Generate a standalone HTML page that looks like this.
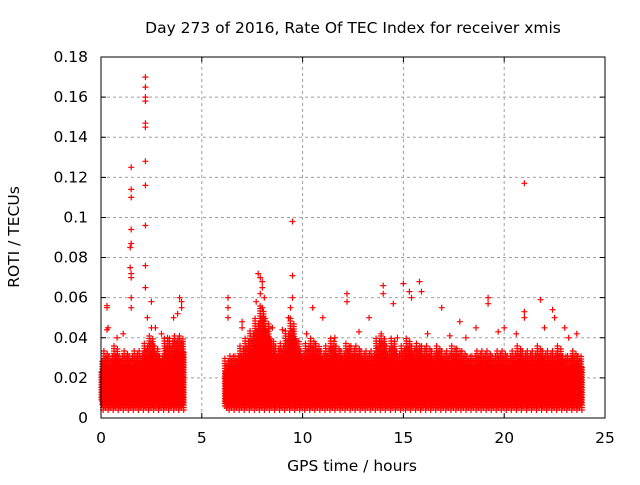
<!DOCTYPE html>
<html><head><meta charset="utf-8"><style>
html,body{margin:0;padding:0;background:#fff;}
svg text{font-family:"DejaVu Sans","Liberation Sans",sans-serif;font-size:15.5px;fill:#000;}
</style></head><body>
<svg id="chart" width="640" height="480" xmlns="http://www.w3.org/2000/svg">
<rect width="640" height="480" fill="#fff"/>
<text x="353" y="33" text-anchor="middle">Day 273 of 2016, Rate Of TEC Index for receiver xmis</text>
<text transform="translate(19,237) rotate(-90)" text-anchor="middle">ROTI / TECUs</text>
<text x="352" y="471" text-anchor="middle">GPS time / hours</text>
<g id="grid"></g>
<g id="ticks"></g>
<g id="marks"></g>
<rect x="101" y="57" width="504" height="361" fill="none" stroke="#000" stroke-width="1"/>
</svg>
<script>
const xTicks=[0,5,10,15,20,25];
const yTicks=[0,0.02,0.04,0.06,0.08,0.1,0.12,0.14,0.16,0.18];
const yTickLabels=["0","0.02","0.04","0.06","0.08","0.1","0.12","0.14","0.16","0.18"];
const binStart1=0, binStep=0.25;
const bandTop1=[0.03,0.034,0.032,0.036,0.032,0.034,0.032,0.034,0.034,0.038,0.042,0.036,0.032,0.04,0.04,0.042,0.042];
const binStart2=6.25;
const bandTop2=[0.03,0.032,0.032,0.036,0.04,0.044,0.05,0.056,0.05,0.04,0.036,0.038,0.044,0.05,0.04,0.034,0.038,0.04,0.038,0.034,0.036,0.04,0.036,0.034,0.038,0.036,0.036,0.034,0.034,0.034,0.04,0.042,0.036,0.04,0.034,0.037,0.04,0.037,0.038,0.036,0.036,0.034,0.037,0.034,0.034,0.036,0.035,0.034,0.032,0.032,0.034,0.034,0.034,0.032,0.034,0.034,0.032,0.034,0.036,0.034,0.034,0.034,0.036,0.034,0.034,0.034,0.036,0.032,0.032,0.034,0.032];
const bandLow=0.006;
const outT=[0.3,0.3,0.3,0.35,1.5,1.5,1.5,1.5,1.45,1.5,1.45,1.5,1.5,1.5,1.5,2.2,2.2,2.2,2.2,2.2,2.2,2.2,2.2,2.2,2.2,2.2,2.3,2.5,2.5,3.0,3.6,3.9,4.0,4.0,3.8,6.3,6.3,6.3,7.0,7.0,7.8,7.9,8.0,8.0,7.9,8.1,7.7,8.0,9.5,9.5,9.5,9.4,9.3,10.5,11.0,12.2,12.2,13.3,14.0,14.0,14.5,15.0,15.3,15.4,15.8,15.9,16.9,17.8,18.6,19.2,19.2,20.0,21.0,21.0,21.0,21.8,22.4,22.5,23.0,0.8,1.1,2.7,3.3,8.5,9.0,10.2,11.6,12.8,13.9,14.7,16.2,17.3,18.1,19.7,20.6,22.0,23.2,23.6];
const outV=[0.056,0.055,0.044,0.045,0.125,0.114,0.11,0.094,0.085,0.087,0.075,0.072,0.07,0.06,0.055,0.17,0.165,0.16,0.158,0.147,0.145,0.128,0.116,0.096,0.076,0.065,0.05,0.058,0.045,0.042,0.05,0.06,0.058,0.055,0.052,0.06,0.055,0.05,0.048,0.045,0.072,0.07,0.068,0.065,0.062,0.06,0.058,0.055,0.098,0.071,0.06,0.055,0.05,0.055,0.05,0.062,0.058,0.05,0.066,0.062,0.057,0.067,0.063,0.06,0.068,0.063,0.055,0.048,0.045,0.06,0.057,0.045,0.117,0.053,0.05,0.059,0.054,0.05,0.045,0.04,0.042,0.045,0.04,0.045,0.044,0.042,0.04,0.043,0.042,0.04,0.042,0.041,0.04,0.043,0.042,0.045,0.04,0.042];

const X0=101,X1=605,Y0=418,Y1=57;
const xs=t=>X0+(t-0)/25*(X1-X0);
const ys=v=>Y0-(v-0)/0.18*(Y0-Y1);
const NS="http://www.w3.org/2000/svg";
const grid=document.getElementById('grid'),ticks=document.getElementById('ticks'),marks=document.getElementById('marks');
function mk(tag,attrs,parent){const e=document.createElementNS(NS,tag);for(const k in attrs)e.setAttribute(k,attrs[k]);parent.appendChild(e);return e;}
xTicks.forEach((t,i)=>{
  const x=xs(t);
  if(i>0&&i<xTicks.length-1){const g=mk('line',{x1:x,y1:Y0,x2:x,y2:Y1,stroke:'#a0a0a0','stroke-dasharray':'3,3'},grid);
  
  }
  const tk=mk('path',{d:`M${x},${Y0}v-5M${x},${Y1}v5`,stroke:'#000'},ticks);
  
  
  const lb=mk('text',{x:x,y:443,'text-anchor':'middle'},ticks);lb.textContent=t;
  
  
});
yTicks.forEach((v,i)=>{
  const y=ys(v);
  if(i>0&&i<yTicks.length-1){const g=mk('line',{x1:X0,y1:y,x2:X1,y2:y,stroke:'#a0a0a0','stroke-dasharray':'3,3'},grid);
  
  }
  const tk=mk('path',{d:`M${X0},${y}h5M${X1},${y}h-5`,stroke:'#000'},ticks);
  
  
  const lb=mk('text',{x:88,y:y+5,'text-anchor':'end'},ticks);lb.textContent=yTickLabels[i];
  
  
});
let d='';
const plus=(x,y)=>{d+=`M${(x-3).toFixed(1)},${y.toFixed(1)}h6M${x.toFixed(1)},${(y-3).toFixed(1)}v6`;};
const colFrac=[1,0.72,0.88,0.66,0.95,0.78];
const lowOff=[0,0.002,-0.001,0.003,0.001,-0.002];
function band(start,tops){
  tops.forEach((top,i)=>{
    const t0=start+i*binStep-binStep/2;
    const n=colFrac.length;
    for(let k=0;k<n;k++){
      const t=t0+(k+0.5)*binStep/n;
      if(t<0)continue;
      const lo=bandLow+lowOff[k];
      const yTop=ys(lo+(top-lo)*colFrac[k]),yLow=ys(lo);
      for(let y=yLow;y>=yTop;y-=2.5)plus(xs(t),y);
    }
  });
}
band(binStart1,bandTop1);
band(binStart2,bandTop2);
outT.forEach((t,i)=>plus(xs(t),ys(outV[i])));
const p=mk('path',{d:d,stroke:'#ff0000','stroke-width':'1.2',fill:'none'},marks);


</script>
</body></html>
